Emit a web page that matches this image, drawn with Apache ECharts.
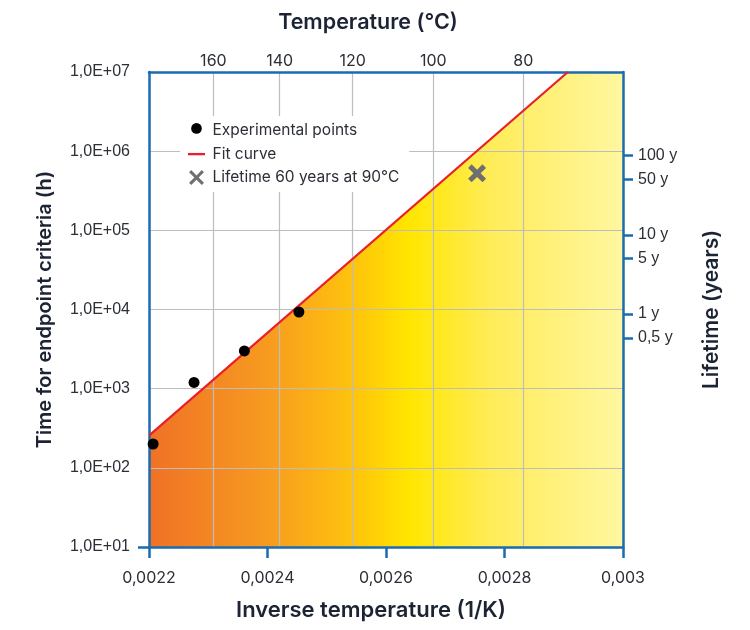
<!DOCTYPE html>
<html>
<head>
<meta charset="utf-8">
<script src="https://cdn.jsdelivr.net/npm/echarts@6/dist/echarts.min.js"></script>
<style>html,body{margin:0;padding:0;background:#fff}#c{width:750px;height:630px}</style>
</head>
<body>
<div id="c"></div>
<script>
// ---- data ----
const invTempMin = 0.0022, invTempMax = 0.003, invTempStep = 0.0002;
const hoursMin = 10, hoursMax = 1e7;
const tempTicksC = [160, 140, 120, 100, 80];
const lifetimeTickYears = [100, 50, 10, 5, 1, 0.5];
const lifetimeTickLabels = ['100 y', '50 y', '10 y', '5 y', '1 y', '0,5 y'];
const HOURS_PER_YEAR = 8760;
const expInvTemp = [0.002207, 0.002276, 0.002361, 0.002453];
const expHours = [200, 1200, 3000, 9300];
const fitInvTemp = [0.0022, 0.002907];
const fitHours = [255, 1e7];
const lifetimeTempC = 90;
const lifetimeYears = 60;

// ---- derived ----
const toInv = t => 1 / (t + 273.15);
const tempTickValues = tempTicksC.map(toInv);
const lifetimeTickValues = lifetimeTickYears.map(y => y * HOURS_PER_YEAR);
const expData = expInvTemp.map((x, i) => [x, expHours[i]]);
const fitData = fitInvTemp.map((x, i) => [x, fitHours[i]]);
const fillData = fitData.concat([[invTempMax, hoursMax]]);
const lifeData = [[toInv(lifetimeTempC), lifetimeYears * HOURS_PER_YEAR]];

const BLUE = '#1b6bb0';
const GRID = '#bdbdbd';
const TXT = '#2b2f36';
const TITLE = '#1c2434';
const xPath = 'path://M2,0 L5,3 L8,0 L10,2 L7,5 L10,8 L8,10 L5,7 L2,10 L0,8 L3,5 L0,2 Z';
const legendCircle = 'path://M0,0 M16,16 M13,6 A5,5 0 1 1 3,6 A5,5 0 1 1 13,6 Z';
const legendLine = 'path://M0,0 M16,16 M0,7 L16,7 L16,9.2 L0,9.2 Z';
const legendX = 'path://M0,0 M16,16 M3,1 L8,6 L13,1 L15,3 L10,8 L15,13 L13,15 L8,10 L3,15 L1,13 L6,8 L1,3 Z';

const chart = echarts.init(document.getElementById('c'), null, {renderer: 'canvas'});
chart.setOption({
  animation: false,
  backgroundColor: '#fff',
  grid: {left: 149, right: 127, top: 72, bottom: 83, containLabel: false},
  legend: {
    orient: 'vertical', left: 180, top: 116,
    backgroundColor: '#fff', padding: [6, 10, 6, 8],
    itemWidth: 22, itemHeight: 17, itemGap: 6.5,
    textStyle: {fontFamily: 'Inter', fontSize: 15.5, color: TXT},
    data: [
      {name: 'Experimental points', icon: legendCircle, itemStyle: {color: '#000'}},
      {name: 'Fit curve', icon: legendLine, itemStyle: {color: '#e8202a'}},
      {name: 'Lifetime 60 years at 90°C', icon: legendX, itemStyle: {color: '#6f6f6f'}}
    ]
  },
  xAxis: [
    {
      type: 'value', position: 'bottom', min: invTempMin, max: invTempMax, interval: invTempStep, z: 3,
      name: 'Inverse temperature (1/K)', nameLocation: 'middle', nameGap: 52,
      nameTextStyle: {fontFamily: 'Inter', fontWeight: 600, fontSize: 22, color: TITLE, padding: [0, 30, 0, 0]},
      axisLine: {show: true, lineStyle: {color: BLUE, width: 2.5}},
      axisTick: {show: true, length: 11, lineStyle: {color: BLUE, width: 2.5}},
      axisLabel: {margin: 23, fontFamily: 'Inter', fontSize: 16, color: TXT,
        formatter: v => v.toFixed(4).replace(/0+$/, '').replace('.', ',')},
      splitLine: {show: false}
    },
    {
      type: 'value', position: 'top', min: invTempMin, max: invTempMax, z: 3,
      name: 'Temperature (°C)', nameLocation: 'middle', nameGap: 38,
      nameTextStyle: {fontFamily: 'Inter', fontWeight: 600, fontSize: 21.5, color: TITLE, padding: [0, 36, 0, 0]},
      axisLine: {show: true, lineStyle: {color: BLUE, width: 2.5}},
      axisTick: {show: false, customValues: tempTickValues},
      axisLabel: {margin: 3, fontFamily: 'Inter', fontSize: 16, color: TXT, customValues: tempTickValues,
        formatter: v => String(Math.round(1 / v - 273.15))},
      splitLine: {show: true, lineStyle: {color: GRID, width: 1.2}}
    }
  ],
  yAxis: [
    {
      type: 'log', logBase: 10, position: 'left', min: hoursMin, max: hoursMax, splitNumber: 6, z: 3,
      name: 'Time for endpoint criteria (h)', nameLocation: 'middle', nameGap: 94,
      nameTextStyle: {fontFamily: 'Inter', fontWeight: 600, fontSize: 20, color: TITLE},
      axisLine: {show: true, lineStyle: {color: BLUE, width: 2.5}},
      axisTick: {show: false},
      axisLabel: {margin: 19, fontFamily: 'Liberation Sans', fontSize: 16, color: TXT,
        formatter: v => '1,0E+' + String(Math.round(Math.log10(v))).padStart(2, '0')},
      splitLine: {show: true, lineStyle: {color: GRID, width: 1.2}}
    },
    {
      type: 'log', logBase: 10, position: 'right', min: hoursMin, max: hoursMax, z: 3,
      name: 'Lifetime (years)', nameLocation: 'middle', nameGap: 78,
      nameTextStyle: {fontFamily: 'Inter', fontWeight: 600, fontSize: 21, color: TITLE},
      axisLine: {show: true, lineStyle: {color: BLUE, width: 2.5}},
      axisTick: {show: true, length: 10, customValues: lifetimeTickValues, lineStyle: {color: BLUE, width: 2.5}},
      axisLabel: {margin: 15, fontFamily: 'Liberation Sans', fontSize: 16, color: TXT, customValues: lifetimeTickValues,
        formatter: v => {
          let best = 0, bd = Infinity;
          lifetimeTickValues.forEach((t, i) => { const d = Math.abs(Math.log(t / v)); if (d < bd) { bd = d; best = i; } });
          return lifetimeTickLabels[best];
        }},
      splitLine: {show: false}
    },
    {
      type: 'log', logBase: 10, position: 'left', min: hoursMin, max: hoursMax, z: 3,
      axisLine: {show: false},
      axisTick: {show: true, length: 11, customValues: [hoursMin], lineStyle: {color: BLUE, width: 2.5}},
      axisLabel: {show: false},
      splitLine: {show: false}
    }
  ],
  series: [
    {
      type: 'line', name: 'fill', xAxisIndex: 0, yAxisIndex: 0, data: fillData,
      symbol: 'none', silent: true, z: 1, lineStyle: {width: 0},
      areaStyle: {origin: 'start', opacity: 1, color: {
        type: 'linear', x: 0, y: 0, x2: 1, y2: 0, colorStops: [
          {offset: 0, color: '#f07126'},
          {offset: 0.25, color: '#f79b20'},
          {offset: 0.45, color: '#ffc80a'},
          {offset: 0.55, color: '#ffe600'},
          {offset: 0.72, color: '#ffec58'},
          {offset: 1, color: '#fff7a0'}
        ]}}
    },
    {
      type: 'line', name: 'Fit curve', xAxisIndex: 0, yAxisIndex: 0, data: fitData,
      symbol: 'none', z: 4, color: '#e8202a', lineStyle: {color: '#e8202a', width: 2.2}
    },
    {
      type: 'scatter', name: 'Experimental points', xAxisIndex: 0, yAxisIndex: 0, data: expData,
      symbol: 'circle', symbolSize: 11, z: 5, itemStyle: {color: '#000', opacity: 1}
    },
    {
      type: 'scatter', name: 'Lifetime 60 years at 90°C', xAxisIndex: 0, yAxisIndex: 0, data: lifeData,
      symbol: xPath, symbolSize: 18, z: 5, itemStyle: {color: '#6f6f6f', opacity: 1}
    }
  ]
});
</script>
</body>
</html>
